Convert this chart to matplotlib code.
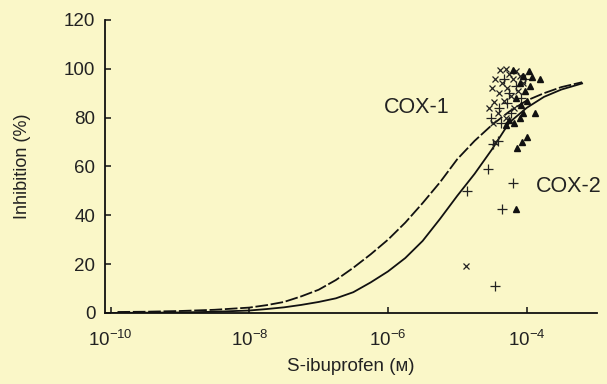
import numpy as np
import matplotlib.pyplot as plt

BG = "#faf7c8"

# Fitted concentration-response curves (log10 molar concentration, % inhibition)
cox1_logc = [-9.9, -9.5, -9.0, -8.5, -8.0, -7.75, -7.5, -7.25, -7.0, -6.75, -6.5, -6.25,
             -6.0, -5.75, -5.5, -5.25, -5.0, -4.75, -4.5, -4.25, -4.0, -3.75, -3.5, -3.2]
cox1_inh = [0.4, 0.5, 0.8, 1.3, 2.2, 3.2, 4.5, 6.8, 9.5, 13.5, 18.5, 24.0,
            30.0, 37.0, 45.0, 53.5, 63.0, 70.5, 77.0, 82.5, 87.0, 90.0, 92.5, 94.5]

cox2_logc = [-10.05, -9.0, -8.5, -8.0, -7.75, -7.5, -7.25, -7.0, -6.75, -6.5, -6.25,
             -6.0, -5.75, -5.5, -5.25, -5.0, -4.75, -4.5, -4.25, -4.0, -3.75, -3.5, -3.2]
cox2_inh = [0.0, 0.2, 0.5, 1.0, 1.6, 2.3, 3.3, 4.5, 6.0, 8.5, 12.5,
            17.0, 22.5, 29.5, 38.5, 48.0, 57.0, 67.0, 78.0, 84.0, 88.5, 91.5, 94.0]

# Individual measurements
x_logc = [-4.88, -4.39, -4.30, -4.25, -4.45, -4.50, -4.54, -4.47, -4.40, -4.35, -4.28,
          -4.20, -4.15, -4.10, -4.42, -4.33, -4.22, -4.30, -4.18, -4.12, -4.05, -4.48, -4.45]
x_inh = [19.3, 99.5, 100.0, 98.0, 96.0, 92.0, 84.0, 86.5, 90.0, 94.0, 92.0,
         96.0, 99.0, 97.0, 82.0, 87.0, 89.0, 80.0, 84.0, 91.0, 94.0, 78.0, 70.0]

plus_logc = [-4.86, -4.55, -4.19, -4.35, -4.46, -4.48, -4.42, -4.52, -4.40, -4.32, -4.25,
             -4.15, -4.08, -4.37, -4.22, -4.02, -4.28]
plus_inh = [50.0, 59.0, 53.3, 42.6, 11.0, 69.0, 70.5, 80.0, 84.0, 96.0, 90.0,
            93.0, 88.0, 78.0, 82.0, 96.0, 86.0]

tri_logc = [-4.16, -4.00, -4.07, -4.14, -3.88, -3.81, -4.20, -4.05, -3.97, -3.92, -4.10,
            -4.02, -3.95, -4.15, -4.08, -4.00, -4.25, -4.18, -4.10, -4.05, -4.30]
tri_inh = [42.6, 72.0, 70.0, 67.6, 82.0, 96.0, 99.5, 97.0, 99.0, 96.5, 94.0,
           91.0, 93.0, 88.0, 85.0, 87.0, 79.0, 78.0, 80.0, 82.0, 77.0]

plt.rcParams["font.family"] = ["Liberation Sans", "DejaVu Sans"]
plt.rcParams["mathtext.default"] = "regular"


def conc(logc):
    return 10.0 ** np.array(logc)


fig = plt.figure(figsize=(6.07, 3.84), dpi=100, facecolor=BG)
ax = fig.add_axes([0.173, 0.185, 0.81, 0.763])
ax.set_facecolor(BG)

ax.plot(conc(cox1_logc), cox1_inh, color="#111111", lw=1.3, dashes=(7, 1.5))
ax.plot(conc(cox2_logc), cox2_inh, color="#111111", lw=1.3)

ax.plot(conc(x_logc), x_inh, ls="none", marker="x", ms=4.5, mew=0.9, color="#222222")
ax.plot(conc(plus_logc), plus_inh, ls="none", marker="+", ms=7, mew=0.9, color="#222222")
ax.plot(conc(tri_logc), tri_inh, ls="none", marker="^", ms=4.5, color="#111111")

ax.text(10 ** -5.58, 84, "COX-1", fontsize=15.5, ha="center", va="center", color="#222222")
ax.text(10 ** -3.39, 51.6, "COX-2", fontsize=15.5, ha="center", va="center", color="#222222")

ax.set_xscale("log")
ax.set_xlim(10 ** -10.08, 10 ** -2.99)
ax.set_ylim(0, 120)
ax.set_xticks([1e-10, 1e-8, 1e-6, 1e-4])
ax.set_xticklabels([r"$10^{-10}$", r"$10^{-8}$", r"$10^{-6}$", r"$10^{-4}$"])
ax.minorticks_off()
ax.set_yticks(range(0, 121, 20))

for side in ("top", "right"):
    ax.spines[side].set_visible(False)
for side in ("left", "bottom"):
    ax.spines[side].set_linewidth(1.3)
    ax.spines[side].set_color("#111111")

ax.tick_params(axis="both", direction="in", length=4, width=1.1, labelsize=13.5,
               colors="#111111", labelcolor="#222222")
ax.tick_params(axis="y", pad=7)
ax.tick_params(axis="x", pad=12)

ax.set_ylabel("Inhibition (%)", fontsize=13, color="#222222", labelpad=24)
ax.set_xlabel("S-ibuprofen (\u1d0d)", fontsize=13.5, color="#222222", labelpad=6)

fig.savefig("out.png", dpi=100, facecolor=BG)
